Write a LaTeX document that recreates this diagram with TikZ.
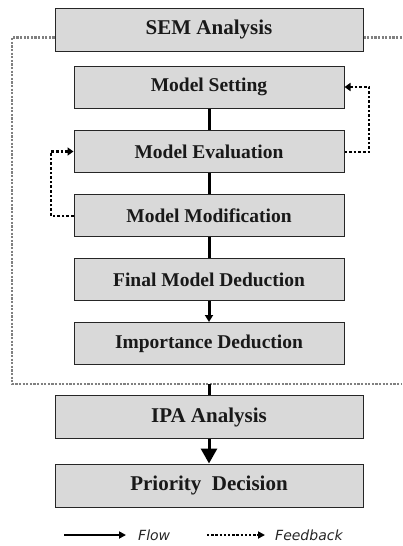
\documentclass[tikz,border=0pt]{standalone}
\usepackage{fontspec}
\setmainfont{Liberation Serif}
\newfontfamily\legfont{DejaVu Sans}
\usetikzlibrary{arrows.meta}
\definecolor{boxfill}{HTML}{D9D9D9}
\definecolor{framegray}{HTML}{808080}
\tikzset{
  bigbox/.style={draw=black!85, line width=1pt, fill=boxfill, minimum width=308pt, minimum height=43pt, inner sep=0pt, font=\fontsize{21}{24}\selectfont\bfseries, text=black!90},
  subbox/.style={draw=black!85, line width=1pt, fill=boxfill, minimum width=270pt, minimum height=42pt, inner sep=0pt, font=\fontsize{19.5}{23}\selectfont\bfseries, text=black!90},
  flowline/.style={line width=3pt, black},
  fbline/.style={line width=2.6pt, black, dash pattern=on 2.6pt off 2pt},
  frameline/.style={line width=2.2pt, framegray, dash pattern=on 2.2pt off 1.4pt},
  legtext/.style={font=\legfont\itshape\fontsize{14}{16}\selectfont, text=black!85, inner sep=0pt, anchor=west}
}
\begin{document}
\begin{tikzpicture}[x=1pt, y=-1pt]
\useasboundingbox (0,0) rectangle (402,546);
% gray dotted frame
\coordinate (ftl) at (12,37.5);
\coordinate (fbl) at (12,384);
\coordinate (fbr) at (402,384);
\coordinate (ftr) at (402,37.5);
\coordinate (fbm) at (209,384);
\node[bigbox] (sem) at (209,29.5) {SEM Analysis};
\draw[frameline] (sem.west |- ftl) -- (ftl) -- (fbl) -- (fbr);
\draw[frameline] (sem.east |- ftr) -- (ftr);
% sub boxes
\node[subbox] (set) at (209,87) {Model Setting};
\node[subbox] (eval) at (209,151.5) {Model Evaluation};
\node[subbox] (mod) at (209,215.5) {Model Modification};
\node[subbox] (fin) at (209,279.5) {Final Model Deduction};
\node[subbox] (imp) at (209,343.5) {Importance Deduction};
\node[bigbox] (ipa) at (209,417) {IPA Analysis};
\node[bigbox] (pri) at (209,485.5) {Priority\ \ Decision};
% flow connectors
\draw[flowline] (set) -- (eval);
\draw[flowline] (eval) -- (mod);
\draw[flowline] (mod) -- (fin);
\draw[flowline, -{Triangle[length=7pt,width=8pt]}] (fin) -- (imp);
\draw[flowline] (fbm) -- (ipa);
\draw[flowline, -{Triangle[length=15pt,width=16pt]}] (ipa) -- (pri);
% feedback
\coordinate (rtop) at (369,87);
\coordinate (rbot) at (369,152);
\draw[fbline, -{Triangle[length=6pt,width=8pt]}] (eval.east |- rbot) -- (rbot) -- (rtop) -- (set.east);
\coordinate (lbot) at (51,216);
\coordinate (ltop) at (51,151.5);
\draw[fbline, -{Triangle[length=6pt,width=8pt]}] (mod.west |- lbot) -- (lbot) -- (ltop) -- (eval.west);
% legend
\coordinate (l1a) at (64,535);
\coordinate (l1b) at (126,535);
\coordinate (l2a) at (207,535);
\coordinate (l2b) at (265,535);
\draw[line width=2.6pt, -{Triangle[length=7pt,width=7pt]}] (l1a) -- (l1b);
\node[legtext] (lflow) at (138,535) {Flow};
\draw[line width=2.4pt, dash pattern=on 2.4pt off 1.8pt, -{Triangle[length=7pt,width=7pt]}] (l2a) -- (l2b);
\node[legtext] (lfb) at (275,535) {Feedback};
\end{tikzpicture}
\end{document}
